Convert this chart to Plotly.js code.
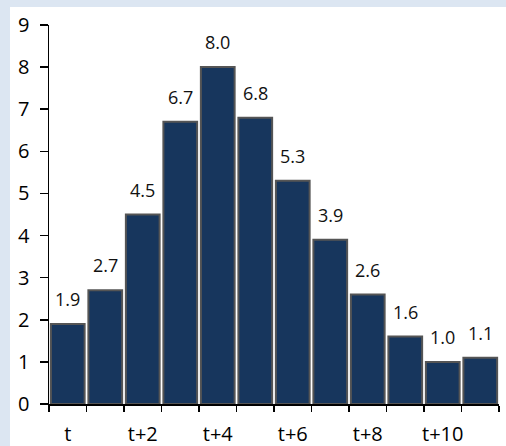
<!DOCTYPE html>
<html>
<head>
<meta charset="utf-8">
<script src="https://cdn.plot.ly/plotly-3.0.1.min.js"></script>
<style>
  html, body { margin: 0; padding: 0; background: #dce6f2; }
  #chart { width: 506px; height: 446px; }
</style>
</head>
<body>
<div id="chart"></div>
<script>
// Periods and values per period
const periods = ['t', 't+1', 't+2', 't+3', 't+4', 't+5', 't+6', 't+7', 't+8', 't+9', 't+10', 't+11'];
const values = [1.9, 2.7, 4.5, 6.7, 8.0, 6.8, 5.3, 3.9, 2.6, 1.6, 1.0, 1.1];
// Only every other period is labelled on the axis
const periodLabels = ['t', '', 't+2', '', 't+4', '', 't+6', '', 't+8', '', 't+10', ''];
const yTicks = [0, 1, 2, 3, 4, 5, 6, 7, 8, 9];

const FONT = 'Open Sans, Noto Sans, sans-serif';

const trace = {
  type: 'bar',
  x: periods,
  y: values,
  marker: { color: '#17365d', line: { color: '#555555', width: 2 } },
  hoverinfo: 'skip'
};

const labels = periods.map((p, i) => ({
  x: p,
  y: values[i],
  text: values[i].toFixed(1),
  showarrow: false,
  xanchor: 'center',
  yanchor: 'bottom',
  yshift: 11,
  font: { family: FONT, size: 18, color: '#111111' }
}));

const layout = {
  width: 506,
  height: 446,
  paper_bgcolor: 'rgba(0,0,0,0)',
  plot_bgcolor: '#ffffff',
  margin: { l: 49, r: 7, t: 25, b: 42, pad: 0 },
  bargap: 0.1,
  showlegend: false,
  font: { family: FONT, color: '#111111' },
  shapes: [{
    type: 'rect', xref: 'paper', yref: 'paper',
    x0: -39 / 450, x1: 1.1, y0: -0.2, y1: 1 + 18 / 379,
    fillcolor: '#ffffff', line: { width: 0 }, layer: 'below'
  }],
  xaxis: {
    type: 'category',
    tickvals: periods,
    ticktext: periodLabels,
    tickson: 'boundaries',
    tickangle: 0,
    ticks: 'outside',
    ticklen: 6,
    tickwidth: 1.5,
    tickcolor: '#000',
    showline: true,
    linecolor: '#000',
    linewidth: 1.5,
    showgrid: false,
    zeroline: false,
    ticklabelstandoff: 11,
    tickfont: { family: FONT, size: 20, color: '#000' },
    fixedrange: true
  },
  yaxis: {
    range: [0, 9],
    tickvals: yTicks,
    ticks: 'outside',
    ticklen: 8,
    tickwidth: 1.5,
    tickcolor: '#000',
    showline: true,
    linecolor: '#000',
    linewidth: 1.5,
    showgrid: false,
    zeroline: false,
    ticklabelstandoff: 6,
    tickfont: { family: FONT, size: 20, color: '#000' },
    fixedrange: true
  },
  annotations: labels
};

Plotly.newPlot('chart', [trace], layout, { displayModeBar: false, staticPlot: true });
</script>
</body>
</html>
